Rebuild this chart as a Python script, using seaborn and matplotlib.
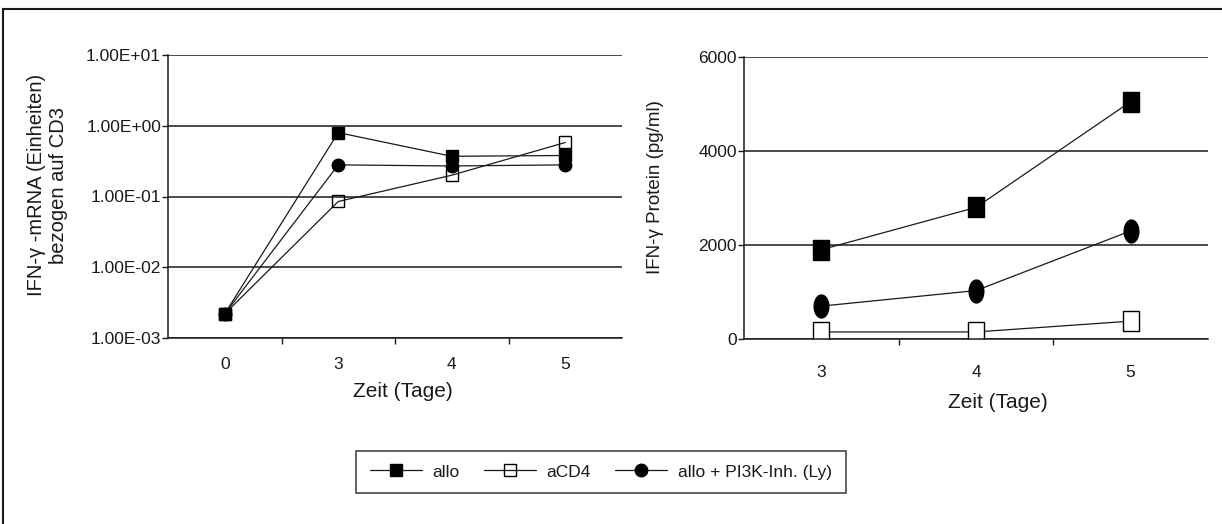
import numpy as np
import pandas as pd
import matplotlib
matplotlib.use("Agg")
import matplotlib.pyplot as plt
import seaborn as sns
from matplotlib.patches import Rectangle
from matplotlib.ticker import FixedLocator, FuncFormatter

# data
series = ["allo", "aCD4", "allo + PI3K-Inh. (Ly)"]

mrna_days = ["0", "3", "4", "5"]
mrna_allo = [0.0022, 0.80, 0.37, 0.38]
mrna_acd4 = [0.0022, 0.085, 0.20, 0.58]
mrna_pi3k = [0.0022, 0.28, 0.27, 0.28]

prot_days = ["3", "4", "5"]
prot_allo = [1900, 2800, 5050]
prot_acd4 = [150, 150, 380]
prot_pi3k = [700, 1030, 2300]

def to_long(days, values):
    rows = []
    for name, vals in zip(series, values):
        for i, (d, v) in enumerate(zip(days, vals)):
            rows.append({"pos": i, "day": d, "value": v, "group": name})
    return pd.DataFrame(rows)

mrna = to_long(mrna_days, [mrna_allo, mrna_acd4, mrna_pi3k])
prot = to_long(prot_days, [prot_allo, prot_acd4, prot_pi3k])

sns.set_style("white")
plt.rcParams["font.family"] = ["Liberation Sans", "DejaVu Sans"]
ink = "#1a1a1a"

# tall markers for the stretched right panel
box = [(-0.37, -0.5), (0.37, -0.5), (0.37, 0.5), (-0.37, 0.5), (-0.37, -0.5)]
t = np.linspace(0, 2 * np.pi, 40)
oval = list(zip(0.32 * np.cos(t), 0.5 * np.sin(t)))

style_left = {
    "allo": dict(marker="s", markerfacecolor="black", markersize=9.5),
    "aCD4": dict(marker="s", markerfacecolor="white", markersize=9),
    "allo + PI3K-Inh. (Ly)": dict(marker="o", markerfacecolor="black", markersize=9.5),
}
style_right = {
    "allo": dict(marker=box, markerfacecolor="black", markersize=15),
    "aCD4": dict(marker=box, markerfacecolor="white", markersize=15),
    "allo + PI3K-Inh. (Ly)": dict(marker=oval, markerfacecolor="black", markersize=16.5),
}

W, H = 1222, 524
fig = plt.figure(figsize=(W / 100, H / 100), dpi=100)
ax1 = fig.add_axes([168 / W, 1 - 338 / H, 454 / W, 283 / H])
ax2 = fig.add_axes([744 / W, 1 - 339 / H, 464 / W, 282 / H])

for name in series:
    sns.lineplot(data=mrna[mrna.group == name], x="pos", y="value", ax=ax1,
                 color=ink, lw=0.9, markeredgecolor="black", markeredgewidth=1,
                 label=name, legend=False, **style_left[name])
    sns.lineplot(data=prot[prot.group == name], x="pos", y="value", ax=ax2,
                 color=ink, lw=0.9, markeredgecolor="black", markeredgewidth=1,
                 legend=False, **style_right[name])

# left panel: log scale
ax1.set_yscale("log")
ax1.set_ylim(1e-3, 1e1)
ax1.yaxis.set_major_locator(FixedLocator([1e-3, 1e-2, 1e-1, 1e0, 1e1]))
ax1.yaxis.set_minor_locator(FixedLocator([]))
ax1.yaxis.set_major_formatter(FuncFormatter(lambda v, p: f"{v:.2E}"))
ax1.set_xlim(-0.5, len(mrna_days) - 0.5)
ax1.set_xticks(range(len(mrna_days)))
ax1.set_xticklabels(mrna_days)
ax1.set_xticks(np.arange(0.5, len(mrna_days) - 0.5, 1), minor=True)
ax1.set_xlabel("Zeit (Tage)", fontsize=15, color=ink, va="top")
ax1.xaxis.set_label_coords(0.518, -0.155)
ax1.set_ylabel("IFN-γ -mRNA (Einheiten)\nbezogen auf CD3", fontsize=14.5,
               color=ink, linespacing=1.2)
ax1.yaxis.set_label_coords(-0.22, 0.54)
ax1.tick_params(axis="x", which="major", pad=14)

# right panel: linear
ax2.set_ylim(0, 6000)
ax2.set_yticks([0, 2000, 4000, 6000])
ax2.set_xlim(-0.5, len(prot_days) - 0.5)
ax2.set_xticks(range(len(prot_days)))
ax2.set_xticklabels(prot_days)
ax2.set_xticks(np.arange(0.5, len(prot_days) - 0.5, 1), minor=True)
ax2.set_xlabel("Zeit (Tage)", fontsize=15, color=ink, va="top")
ax2.xaxis.set_label_coords(0.547, -0.19)
ax2.set_ylabel("IFN-γ Protein (pg/ml)", fontsize=13.5, color=ink)
ax2.yaxis.set_label_coords(-0.172, 0.54)
ax2.tick_params(axis="x", which="major", pad=19)

for ax in (ax1, ax2):
    ax.grid(axis="y", color=ink, lw=1.1)
    ax.grid(axis="x", visible=False)
    ax.set_axisbelow(True)
    for s in ("top", "right"):
        ax.spines[s].set_visible(False)
    for s in ("left", "bottom"):
        ax.spines[s].set_color(ink)
        ax.spines[s].set_linewidth(1.1)
    ax.tick_params(axis="y", which="major", direction="out", length=4, width=1,
                   color=ink, labelsize=12.5, labelcolor=ink, pad=1, left=True)
    ax.tick_params(axis="x", which="major", length=0, labelsize=12.5,
                   labelcolor=ink)
    ax.tick_params(axis="x", which="minor", direction="out", length=4,
                   width=1, color=ink, bottom=True)

handles, labels = ax1.get_legend_handles_labels()
for h in handles:
    h.set_markersize(9)
handles[1].set_markerfacecolor("none")
leg = fig.legend(handles, labels, loc="center", ncol=3,
                 bbox_to_anchor=(601 / W, 1 - 472 / H), frameon=True,
                 fancybox=False, edgecolor=ink, fontsize=12.5,
                 handlelength=3.0, columnspacing=1.4, handletextpad=0.6,
                 borderpad=0.8)
leg.get_frame().set_linewidth(1.2)
for txt in leg.get_texts():
    txt.set_color(ink)

# outer frame of the original figure
fig.patches.append(Rectangle((3 / W, -0.1), 1.2, 1 - 9 / H + 0.1,
                             transform=fig.transFigure, fill=False,
                             edgecolor=ink, lw=1.5))

fig.savefig("out.png", dpi=100)
